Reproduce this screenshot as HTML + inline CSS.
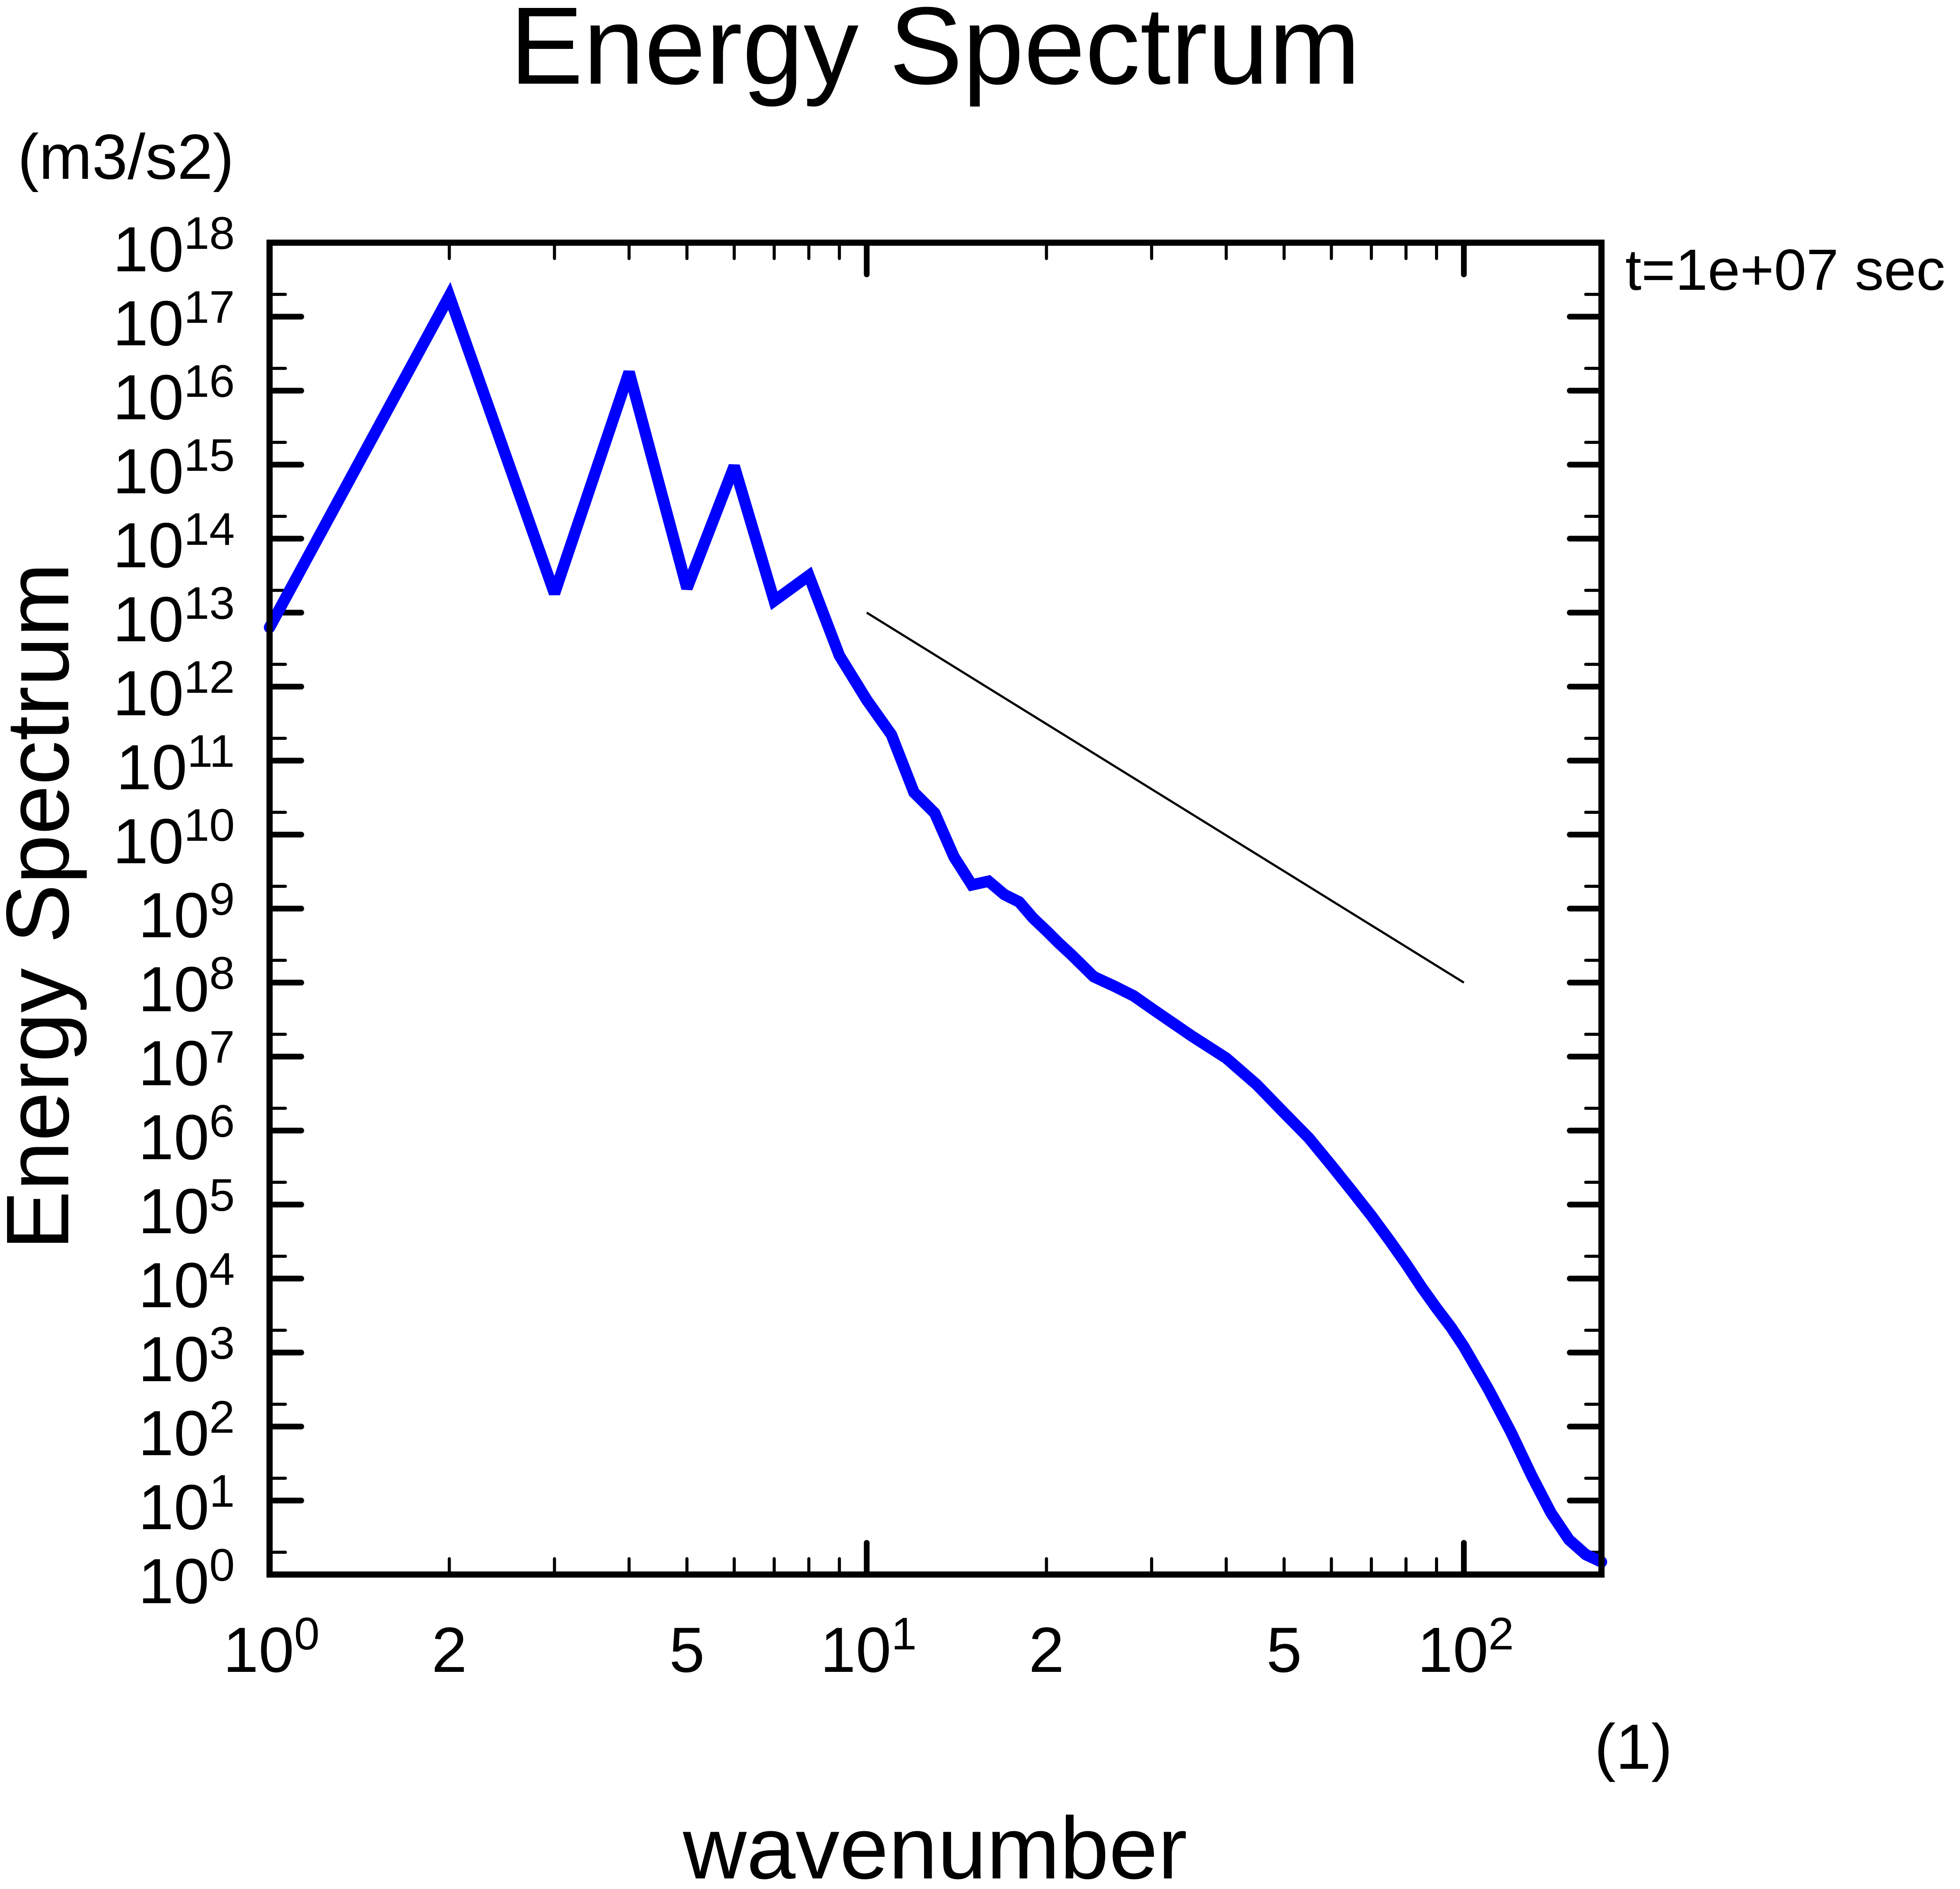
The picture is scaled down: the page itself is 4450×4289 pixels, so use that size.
<!DOCTYPE html>
<html><head><meta charset="utf-8"><style>
html,body{margin:0;padding:0;background:#fff}
svg{display:block}
text{font-family:"Liberation Sans",Arial,sans-serif;fill:#000}
</style></head><body>
<svg id="chart" width="4450" height="4289" viewBox="0 0 4450 4289" xmlns="http://www.w3.org/2000/svg">
<text x="2123" y="190" font-size="250" text-anchor="middle">Energy Spectrum</text>
<text x="40" y="406" font-size="145">(m3/s2)</text>
<text x="3690" y="658" font-size="132">t=1e+07 sec</text>
<text x="3620" y="4016" font-size="145">(1)</text>
<text x="2123" y="4265" font-size="200" text-anchor="middle">wavenumber</text>
<text transform="translate(155,2058) rotate(-90)" font-size="202" text-anchor="middle">Energy Spectrum</text>
<g id="ticks"></g>
<g id="labels"></g>
<g id="marks"></g>
<rect x="612" y="551" width="3024" height="3024" fill="none" stroke="#000" stroke-width="14"/>
</svg>
<script>
const wavenumbers = [1,2,3,4,5,6,7,8,9,10,11,12,13,14,15,16,17,18,19,20,21,22,24,26,28,30,35,40,45,50,55,60,65,70,75,80,85,90,95,100,110,120,130,140,150,160,170];
const log10Energy = [12.8,17.28,13.26,16.25,13.33,14.98,13.16,13.5,12.42,11.82,11.35,10.57,10.29,9.7,9.32,9.37,9.19,9.09,8.87,8.7,8.53,8.38,8.08,7.95,7.82,7.65,7.28,6.98,6.62,6.24,5.9,5.53,5.18,4.85,4.52,4.2,3.88,3.6,3.35,3.08,2.5,1.92,1.33,0.83,0.47,0.27,0.17];
const refLineK = [10,100];
const refLineLog = [13,8];
const yDecades = [0,1,2,3,4,5,6,7,8,9,10,11,12,13,14,15,16,17,18];
const xMajor = [1,10,100];
const xMajorExp = ['0','1','2'];
const xMinor = [2,3,4,5,6,7,8,9,20,30,40,50,60,70,80,90];
const xMinorLabels = {2:'2',5:'5',20:'2',50:'5'};

const L=612,R=3636,T=551,B=3575,XMAX=170,YMAX=18;
const NS='http://www.w3.org/2000/svg';
function sx(k){return L+(R-L)*Math.log10(k)/Math.log10(XMAX);}
function sy(lg){return B-(B-T)*lg/YMAX;}
function mk(tag,attrs,parent){const e=document.createElementNS(NS,tag);for(const a in attrs)e.setAttribute(a,attrs[a]);parent.appendChild(e);return e;}
const ticks=document.getElementById('ticks'),labels=document.getElementById('labels'),marks=document.getElementById('marks');

yDecades.forEach(d=>{
  const y=sy(d);
  if(d>0&&d<YMAX){
    const t1=mk('line',{x1:L,x2:L+72,y1:y,y2:y,stroke:'#000','stroke-width':13,'stroke-linecap':'round'},ticks);
    
    
    const t2=mk('line',{x1:R,x2:R-72,y1:y,y2:y,stroke:'#000','stroke-width':13,'stroke-linecap':'round'},ticks);
    
    
  }
  if(d<YMAX){
    const ym=sy(d+Math.log10(2));
    const m1=mk('line',{x1:L,x2:L+36,y1:ym,y2:ym,stroke:'#000','stroke-width':7,'stroke-linecap':'round'},ticks);
    
    
    const m2=mk('line',{x1:R,x2:R-36,y1:ym,y2:ym,stroke:'#000','stroke-width':7,'stroke-linecap':'round'},ticks);
    
    
  }
  const tx=mk('text',{x:533,y:y+65,'font-size':145,'text-anchor':'end'},labels);
  
  
  const a=mk('tspan',{},tx);a.textContent='10';
  const b=mk('tspan',{dy:-51,'font-size':104},tx);b.textContent=String(d);
});
xMajor.forEach((k,i)=>{
  const x=sx(k);
  if(i>0){
    const t1=mk('line',{x1:x,x2:x,y1:B,y2:B-72,stroke:'#000','stroke-width':13,'stroke-linecap':'round'},ticks);
    
    
    const t2=mk('line',{x1:x,x2:x,y1:T,y2:T+72,stroke:'#000','stroke-width':13,'stroke-linecap':'round'},ticks);
    
    
  }
  const tx=mk('text',{x:x+4,y:3796,'font-size':145,'text-anchor':'middle'},labels);
  
  
  const a=mk('tspan',{},tx);a.textContent='10';
  const b=mk('tspan',{dy:-51,'font-size':104},tx);b.textContent=xMajorExp[i];
});
xMinor.forEach(k=>{
  const x=sx(k);
  const t1=mk('line',{x1:x,x2:x,y1:B,y2:B-36,stroke:'#000','stroke-width':7,'stroke-linecap':'round'},ticks);
  
  
  const t2=mk('line',{x1:x,x2:x,y1:T,y2:T+36,stroke:'#000','stroke-width':7,'stroke-linecap':'round'},ticks);
  
  
  if(xMinorLabels[k]){
    const tx=mk('text',{x:x,y:3796,'font-size':145,'text-anchor':'middle'},labels);
    
    
    tx.textContent=xMinorLabels[k];
  }
});
const ref=mk('line',{x1:sx(refLineK[0]),y1:sy(refLineLog[0]),x2:sx(refLineK[1]),y2:sy(refLineLog[1]),stroke:'#000','stroke-width':5},marks);


const pts=wavenumbers.map((k,i)=>sx(k).toFixed(1)+','+sy(log10Energy[i]).toFixed(1)).join(' ');
const pl=mk('polyline',{points:pts,fill:'none',stroke:'#0000ff','stroke-width':26,'stroke-linejoin':'miter','stroke-miterlimit':3,'stroke-linecap':'round'},marks);


</script>
</body></html>
